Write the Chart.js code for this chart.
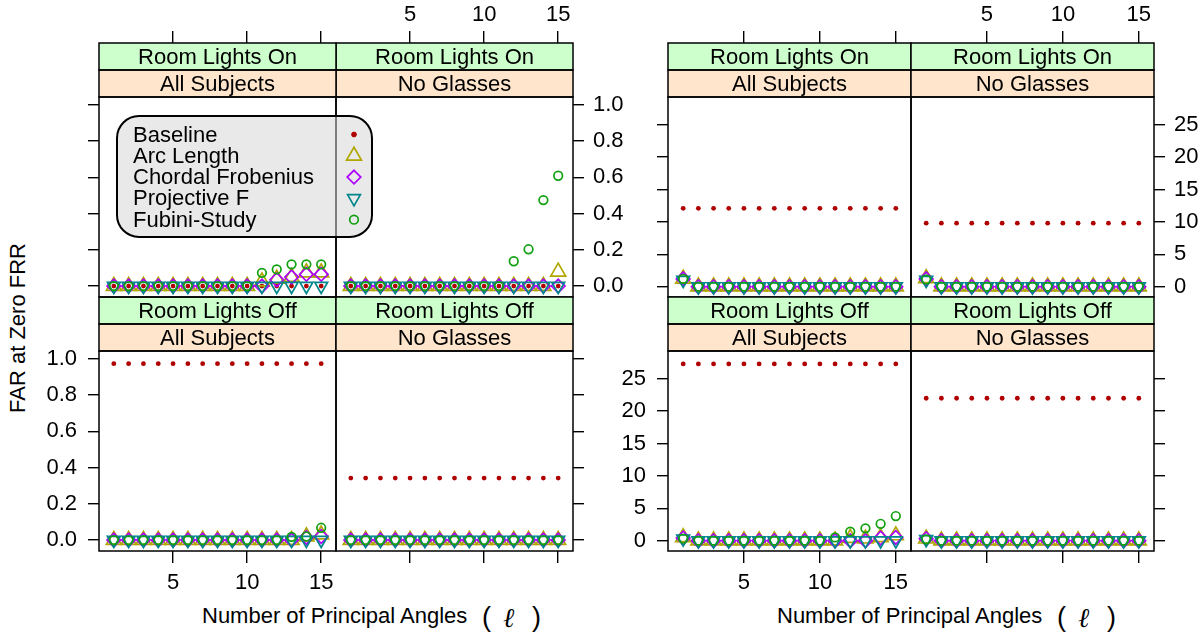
<!DOCTYPE html>
<html>
<head>
<meta charset="utf-8">
<script src="https://cdn.jsdelivr.net/npm/chart.js@4.4.1/dist/chart.umd.min.js"></script>
<style>
  body { margin: 0; background: #fff; width: 1204px; height: 634px; overflow: hidden; position: relative;
         font-family: "Liberation Sans", Arial, sans-serif; }
  canvas { position: absolute; }
  .lab { position: absolute; font-size: 22px; line-height: 22px; color: #000; white-space: nowrap; }
</style>
</head>
<body>
<div class="lab" style="left:18px;top:328px;transform:translate(-50%,-50%) rotate(-90deg);">FAR at Zero FRR</div>

<div class="lab" style="left:202px;top:605px;">Number of Principal Angles</div>
<div class="lab" style="left:482px;top:604px;font-size:27px;line-height:27px;">(</div>
<div class="lab" style="left:503px;top:604px;font-size:27px;line-height:27px;font-family:'DejaVu Serif';font-style:italic;">ℓ</div>
<div class="lab" style="left:532px;top:604px;font-size:27px;line-height:27px;">)</div>

<div class="lab" style="left:777px;top:605px;">Number of Principal Angles</div>
<div class="lab" style="left:1057px;top:604px;font-size:27px;line-height:27px;">(</div>
<div class="lab" style="left:1078px;top:604px;font-size:27px;line-height:27px;font-family:'DejaVu Serif';font-style:italic;">ℓ</div>
<div class="lab" style="left:1107px;top:604px;font-size:27px;line-height:27px;">)</div>

<script>
// number of principal angles
const xVals = [1, 2, 3, 4, 5, 6, 7, 8, 9, 10, 11, 12, 13, 14, 15];
const seriesNames = ['Baseline', 'Arc Length', 'Chordal Frobenius', 'Projective F', 'Fubini-Study'];
const xTicks = [5, 10, 15];
const farTicks = [0, 0.2, 0.4, 0.6, 0.8, 1.0];
const pctTicks = [0, 5, 10, 15, 20, 25];

// left figure (rows: Baseline, Arc Length, Chordal Frobenius, Projective F, Fubini-Study)
const farOnAll = [
  [0, 0, 0, 0, 0, 0, 0, 0, 0, 0, 0, 0, 0, 0, 0],
  [0, 0, 0, 0, 0, 0, 0, 0, 0, 0, 0.025, 0.04, 0.05, 0.075, 0.075],
  [0, 0, 0, 0, 0, 0, 0, 0, 0, 0, 0, 0.035, 0.05, 0.065, 0.065],
  [0, 0, 0, 0, 0, 0, 0, 0, 0, 0, 0, 0, 0, 0, 0],
  [0, 0, 0, 0, 0, 0, 0, 0, 0, 0, 0.073, 0.092, 0.12, 0.12, 0.12]
];
const farOnNoGlasses = [
  [0, 0, 0, 0, 0, 0, 0, 0, 0, 0, 0, 0, 0, 0, 0],
  [0, 0, 0, 0, 0, 0, 0, 0, 0, 0, 0, 0, 0, 0, 0.079],
  [0, 0, 0, 0, 0, 0, 0, 0, 0, 0, 0, 0, 0, 0, 0],
  [0, 0, 0, 0, 0, 0, 0, 0, 0, 0, 0, 0, 0, 0, 0],
  [0, 0, 0, 0, 0, 0, 0, 0, 0, 0, 0, 0.137, 0.203, 0.474, 0.608]
];
const farOffAll = [
  [0.972, 0.972, 0.972, 0.972, 0.972, 0.972, 0.972, 0.972, 0.972, 0.972, 0.972, 0.972, 0.972, 0.972, 0.972],
  [0, 0, 0, 0, 0, 0, 0, 0, 0, 0, 0, 0, 0, 0.02, 0.03],
  [0, 0, 0, 0, 0, 0, 0, 0, 0, 0, 0, 0, 0, 0.015, 0.02],
  [0, 0, 0, 0, 0, 0, 0, 0, 0, 0, 0, 0, 0, 0, 0],
  [0, 0, 0, 0, 0, 0, 0, 0, 0, 0, 0, 0, 0.018, 0.02, 0.068]
];
const farOffNoGlasses = [
  [0.342, 0.342, 0.342, 0.342, 0.342, 0.342, 0.342, 0.342, 0.342, 0.342, 0.342, 0.342, 0.342, 0.342, 0.342],
  [0, 0, 0, 0, 0, 0, 0, 0, 0, 0, 0, 0, 0, 0, 0],
  [0, 0, 0, 0, 0, 0, 0, 0, 0, 0, 0, 0, 0, 0, 0],
  [0, 0, 0, 0, 0, 0, 0, 0, 0, 0, 0, 0, 0, 0, 0],
  [0, 0, 0, 0, 0, 0, 0, 0, 0, 0, 0, 0, 0, 0, 0]
];

// right figure
const pctOnAll = [
  [12.1, 12.1, 12.1, 12.1, 12.1, 12.1, 12.1, 12.1, 12.1, 12.1, 12.1, 12.1, 12.1, 12.1, 12.1],
  [1.2, 0, 0, 0, 0, 0, 0, 0, 0, 0, 0, 0, 0, 0, 0],
  [1.2, 0, 0, 0, 0, 0, 0, 0, 0, 0, 0, 0, 0, 0, 0],
  [1.0, 0, 0, 0, 0, 0, 0, 0, 0, 0, 0, 0, 0, 0, 0],
  [1.2, 0, 0, 0, 0, 0, 0, 0, 0, 0, 0, 0, 0, 0, 0]
];
const pctOnNoGlasses = [
  [9.8, 9.8, 9.8, 9.8, 9.8, 9.8, 9.8, 9.8, 9.8, 9.8, 9.8, 9.8, 9.8, 9.8, 9.8],
  [1.3, 0, 0, 0, 0, 0, 0, 0, 0, 0, 0, 0, 0, 0, 0],
  [1.2, 0, 0, 0, 0, 0, 0, 0, 0, 0, 0, 0, 0, 0, 0],
  [1.0, 0, 0, 0, 0, 0, 0, 0, 0, 0, 0, 0, 0, 0, 0],
  [1.1, 0, 0, 0, 0, 0, 0, 0, 0, 0, 0, 0, 0, 0, 0]
];
const pctOffAll = [
  [27.3, 27.3, 27.3, 27.3, 27.3, 27.3, 27.3, 27.3, 27.3, 27.3, 27.3, 27.3, 27.3, 27.3, 27.3],
  [0.5, 0, 0, 0, 0, 0, 0, 0, 0, 0, 0, 0.4, 0.3, 0.5, 0.8],
  [0.4, 0, 0, 0, 0, 0, 0, 0, 0, 0, 0, 0, 0, 0.4, 0.5],
  [0.3, 0, 0, 0, 0, 0, 0, 0, 0, 0, 0, 0, 0, 0, 0],
  [0.3, 0, 0, 0, 0, 0, 0, 0, 0, 0, 0.5, 1.4, 1.9, 2.6, 3.8]
];
const pctOffNoGlasses = [
  [22.0, 22.0, 22.0, 22.0, 22.0, 22.0, 22.0, 22.0, 22.0, 22.0, 22.0, 22.0, 22.0, 22.0, 22.0],
  [0.3, 0, 0, 0, 0, 0, 0, 0, 0, 0, 0, 0, 0, 0, 0],
  [0.3, 0, 0, 0, 0, 0, 0, 0, 0, 0, 0, 0, 0, 0, 0],
  [0.2, 0, 0, 0, 0, 0, 0, 0, 0, 0, 0, 0, 0, 0, 0],
  [0.2, 0, 0, 0, 0, 0, 0, 0, 0, 0, 0, 0, 0, 0, 0]
];

const FONT = '"Liberation Sans", Arial, sans-serif';
const M = 70;          // canvas margin around the panel
const STRIP = 27;      // strip height
const PLOT_H = 200;    // panel height
const farRange = [-0.06, 1.042];
const pctRange = [-1.6, 29.3];
const xRange = [0, 16];

const markStyles = [
  { pointStyle: 'circle', radius: 2.4, color: '#B00000', filled: true, rotation: 0 },
  { pointStyle: 'triangle', radius: 8.6, color: '#B0A800', filled: false, rotation: 0 },
  { pointStyle: 'rectRot', radius: 6.8, color: '#AE00FF', filled: false, rotation: 0 },
  { pointStyle: 'triangle', radius: 7.4, color: '#00868B', filled: false, rotation: 180 },
  { pointStyle: 'circle', radius: 4.3, color: '#10A010', filled: false, rotation: 0 }
];

function ownDrawPoint(ctx, st, x, y) {
  ctx.beginPath();
  if (st.pointStyle === 'circle') {
    ctx.arc(x, y, st.radius, 0, Math.PI * 2);
  } else if (st.pointStyle === 'rectRot') {
    ctx.moveTo(x, y - st.radius); ctx.lineTo(x + st.radius, y);
    ctx.lineTo(x, y + st.radius); ctx.lineTo(x - st.radius, y);
  } else {
    let a = st.rotation * Math.PI / 180;
    for (let k = 0; k < 3; k++) {
      const px = x + Math.sin(a) * st.radius, py = y - Math.cos(a) * st.radius;
      k ? ctx.lineTo(px, py) : ctx.moveTo(px, py);
      a += 2 * Math.PI / 3;
    }
  }
  ctx.closePath();
  if (st.filled) ctx.fill();
  ctx.stroke();
}

// strips, panel box and the key
const panelDecor = {
  id: 'panelDecor',
  afterDatasetsDraw(chart, args, opts) {
    const ctx = chart.ctx, a = chart.chartArea;
    const s2 = a.top + STRIP, s3 = a.top + 2 * STRIP;
    ctx.save();
    ctx.fillStyle = '#CCFFCC';
    ctx.fillRect(a.left, a.top, a.width, STRIP);
    ctx.fillStyle = '#FFE5CC';
    ctx.fillRect(a.left, s2, a.width, STRIP);
    ctx.fillStyle = '#000';
    ctx.font = '22px ' + FONT;
    ctx.textAlign = 'center';
    ctx.textBaseline = 'middle';
    ctx.fillText(opts.strips[0], (a.left + a.right) / 2, a.top + STRIP / 2 + 1);
    ctx.fillText(opts.strips[1], (a.left + a.right) / 2, s2 + STRIP / 2 + 1);
    ctx.strokeStyle = '#000';
    ctx.lineWidth = 1.5;
    ctx.strokeRect(a.left, a.top, a.width, STRIP);
    ctx.strokeRect(a.left, s2, a.width, STRIP);
    ctx.strokeRect(a.left, s3, a.width, a.bottom - s3);

    if (opts.legend) {
      const ox = opts.ox, oy = opts.oy;
      const bx = 117 - ox, by = 116 - oy, bw = 255, bh = 121, r = 22;
      ctx.beginPath();
      ctx.roundRect(bx, by, bw, bh, r);
      ctx.fillStyle = 'rgba(215,215,215,0.55)';
      ctx.fill();
      ctx.lineWidth = 2;
      ctx.strokeStyle = '#000';
      ctx.stroke();
      ctx.textAlign = 'left';
      ctx.font = '22px ' + FONT;
      seriesNames.forEach((name, i) => {
        const ly = 134.5 + i * 21.3 - oy;
        ctx.fillStyle = '#000';
        ctx.fillText(name, 133 - ox, ly + 1);
        const st = markStyles[i];
        ctx.strokeStyle = st.color;
        ctx.fillStyle = st.color;
        ctx.lineWidth = st.filled ? 1 : 1.7;
        ownDrawPoint(ctx, st, 354 - ox, ly);
      });
    }
    ctx.restore();
  }
};

function scaleOpts(axis, position, mode, range, ticks, fmt) {
  const horizontal = axis === 'x';
  let pad = 11;
  if (position === 'right') pad = 9;
  if (position === 'bottom') pad = 7;
  if (position === 'top') pad = 3;
  return {
    type: 'linear', axis, position, display: !!mode,
    min: range[0], max: range[1],
    afterBuildTicks: s => { s.ticks = ticks.map(v => ({ value: v })); },
    afterFit: s => {
      if (!mode) return;
      if (horizontal) s.height = M; else s.width = M;
    },
    grid: { drawOnChartArea: false, drawTicks: true, tickLength: horizontal ? 12 : 11, color: '#000', lineWidth: 1.4 },
    border: { display: false },
    ticks: {
      autoSkip: false, maxRotation: 0, padding: pad, color: '#000',
      font: { family: FONT, size: 22 },
      callback: v => (mode === 'labels' ? fmt(v) : '')
    }
  };
}

const f1 = v => v.toFixed(1);
const f0 = v => String(v);

const panels = [
  { data: farOnAll, strips: ['Room Lights On', 'All Subjects'], x: 99, w: 237, top: 43, yr: farRange, yt: farTicks, fmt: f1,
    axes: { top: 'ticks', left: 'ticks' }, legend: true, z: 3 },
  { data: farOnNoGlasses, strips: ['Room Lights On', 'No Glasses'], x: 336, w: 237, top: 43, yr: farRange, yt: farTicks, fmt: f1,
    axes: { top: 'labels', right: 'labels' } },
  { data: farOffAll, strips: ['Room Lights Off', 'All Subjects'], x: 99, w: 237, top: 297, yr: farRange, yt: farTicks, fmt: f1,
    axes: { bottom: 'labels', left: 'labels' } },
  { data: farOffNoGlasses, strips: ['Room Lights Off', 'No Glasses'], x: 336, w: 237, top: 297, yr: farRange, yt: farTicks, fmt: f1,
    axes: { bottom: 'ticks', right: 'ticks' } },
  { data: pctOnAll, strips: ['Room Lights On', 'All Subjects'], x: 668, w: 243, top: 43, yr: pctRange, yt: pctTicks, fmt: f0,
    axes: { top: 'ticks', left: 'ticks' } },
  { data: pctOnNoGlasses, strips: ['Room Lights On', 'No Glasses'], x: 911, w: 243, top: 43, yr: pctRange, yt: pctTicks, fmt: f0,
    axes: { top: 'labels', right: 'labels' } },
  { data: pctOffAll, strips: ['Room Lights Off', 'All Subjects'], x: 668, w: 243, top: 297, yr: pctRange, yt: pctTicks, fmt: f0,
    axes: { bottom: 'labels', left: 'labels' } },
  { data: pctOffNoGlasses, strips: ['Room Lights Off', 'No Glasses'], x: 911, w: 243, top: 297, yr: pctRange, yt: pctTicks, fmt: f0,
    axes: { bottom: 'ticks', right: 'ticks' } }
];

function makePanel(p) {
  const h = 2 * STRIP + PLOT_H;
  const cv = document.createElement('canvas');
  cv.width = p.w + 2 * M;
  cv.height = h + 2 * M;
  cv.style.left = (p.x - M) + 'px';
  cv.style.top = (p.top - M) + 'px';
  cv.style.zIndex = p.z || 1;
  document.body.appendChild(cv);

  // the chart area also holds the two strips above the panel
  const yTop = p.yr[1] + (p.yr[1] - p.yr[0]) * 2 * STRIP / PLOT_H;
  const yRange = [p.yr[0], yTop];
  const ax = p.axes;

  const datasets = p.data.map((vals, i) => {
    const st = markStyles[i];
    return {
      label: seriesNames[i],
      data: xVals.map((x, j) => ({ x, y: vals[j] })),
      pointStyle: st.pointStyle,
      pointRadius: st.radius,
      pointRotation: st.rotation,
      borderColor: st.color,
      backgroundColor: st.filled ? st.color : 'rgba(0,0,0,0)',
      borderWidth: st.filled ? 0 : 1.7,
      showLine: false,
      order: 5 - i
    };
  });

  new Chart(cv.getContext('2d'), {
    type: 'scatter',
    data: { datasets },
    options: {
      responsive: false,
      animation: false,
      events: [],
      layout: { padding: { left: ax.left ? 0 : M, right: ax.right ? 0 : M, top: ax.top ? 0 : M, bottom: ax.bottom ? 0 : M } },
      scales: {
        x: scaleOpts('x', 'bottom', ax.bottom, xRange, xTicks, f0),
        x2: scaleOpts('x', 'top', ax.top, xRange, xTicks, f0),
        y: scaleOpts('y', 'left', ax.left, yRange, p.yt, p.fmt),
        y2: scaleOpts('y', 'right', ax.right, yRange, p.yt, p.fmt)
      },
      plugins: {
        legend: { display: false },
        tooltip: { enabled: false },
        panelDecor: { strips: p.strips, legend: !!p.legend, ox: p.x - M, oy: p.top - M }
      }
    },
    plugins: [panelDecor]
  });
}

panels.forEach(makePanel);
</script>
</body>
</html>
